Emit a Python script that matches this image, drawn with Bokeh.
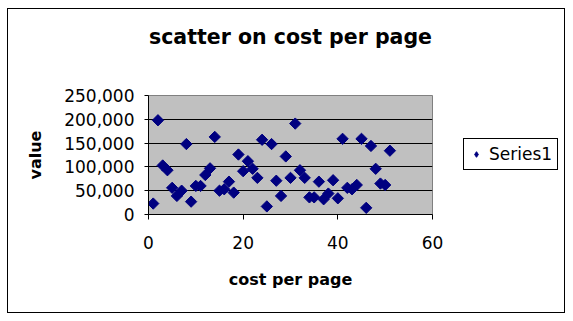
from bokeh.plotting import figure
from bokeh.models import (ColumnDataSource, Range1d, FixedTicker, NumeralTickFormatter,
                          Legend, LegendItem, Title, InlineStyleSheet)
from bokeh.embed import file_html
from bokeh.resources import INLINE
import math

cost_per_page = [1, 2, 3, 4, 5, 6, 7, 8, 9, 10, 11, 12, 13, 14, 15, 16, 17, 18, 19, 20,
                 21, 22, 23, 24, 25, 26, 27, 28, 29, 30, 31, 32, 33, 34, 35, 36, 37, 38, 39, 40,
                 41, 42, 43, 44, 45, 46, 47, 48, 49, 50, 51]
value = [23000, 198000, 103000, 93000, 56000, 39000, 50000, 148000, 27000, 60000,
         60000, 83000, 97000, 163000, 50000, 53000, 69000, 46000, 126000, 91000,
         112000, 96000, 77000, 157000, 17000, 148000, 71000, 39000, 122000, 77000,
         191000, 93000, 77000, 36000, 36000, 69000, 32000, 44000, 72000, 34000,
         159000, 56000, 53000, 62000, 159000, 14000, 144000, 96000, 65000, 62000,
         134000]
x_ticks = [0, 20, 40, 60]
y_ticks = [0, 50000, 100000, 150000, 200000, 250000]
series_name = "Series1"
chart_title = "scatter on cost per page"

FONT = "DejaVu Sans"

src = ColumnDataSource(dict(x=cost_per_page, y=value))

p = figure(frame_width=284, frame_height=119, output_backend="svg", toolbar_location=None,
           x_range=Range1d(0, 60), y_range=Range1d(0, 250000),
           min_border_left=148, min_border_right=141, min_border_top=95, min_border_bottom=107)

p.stylesheets = [InlineStyleSheet(css="""
:host { position: relative; }
:host::after {
  content: ""; position: absolute; left: 7px; top: 8px; width: 558px; height: 305px;
  border: 1px solid black; pointer-events: none; z-index: 100; box-sizing: border-box;
}
""")]

p.background_fill_color = "#C0C0C0"
p.border_fill_color = "white"
p.outline_line_color = "#808080"
p.outline_line_width = 1

p.title.visible = False
p.add_layout(Title(text=" ", text_font_size="26px", text_font=FONT), "above")
p.add_layout(Title(text=chart_title, text_font=FONT, text_font_size="20.5px",
                   text_font_style="bold", align="center", text_color="black"), "above")

# legend swatch renderer: small diamonds under the main markers (hidden by them)
r_leg = p.scatter("x", "y", source=src, marker="diamond", size=9,
                  fill_color="#000080", line_color="#000080")

r = p.scatter("x", "y", source=src, marker="square", size=8, angle=math.pi / 4,
              fill_color="#000080", line_color="#000080")

p.xgrid.visible = False
p.ygrid.ticker = FixedTicker(ticks=y_ticks)
p.ygrid.grid_line_color = "black"
p.ygrid.grid_line_width = 1

for ax in (p.xaxis[0], p.yaxis[0]):
    ax.axis_line_color = "black"
    ax.major_tick_line_color = "black"
    ax.minor_tick_line_color = None
    ax.major_tick_out = 5
    ax.major_tick_in = 0
    ax.major_label_text_font = FONT
    ax.major_label_text_font_size = "17px"
    ax.major_label_text_color = "black"
    ax.axis_label_text_font = FONT
    ax.axis_label_text_font_size = "16px"
    ax.axis_label_text_font_style = "bold"
    ax.axis_label_text_color = "black"

p.xaxis.ticker = FixedTicker(ticks=x_ticks)
p.xaxis.axis_label = "cost per page"
p.xaxis.major_label_standoff = 16
p.xaxis.axis_label_standoff = 18

p.yaxis.ticker = FixedTicker(ticks=y_ticks)
p.yaxis.formatter = NumeralTickFormatter(format="0,0")
p.yaxis.axis_label = "value"
p.yaxis.major_tick_out = 4
p.yaxis.major_label_standoff = 10
p.yaxis.axis_label_standoff = 16

legend = Legend(items=[LegendItem(label=series_name, renderers=[r_leg])], location=(31, 44),
                margin=0, padding=5, border_line_color="black", border_line_width=1,
                border_line_alpha=1.0,
                label_text_font=FONT, label_text_font_size="17px", label_standoff=6,
                label_text_color="black",
                glyph_width=14, glyph_height=14, background_fill_color="white")
p.add_layout(legend, "right")

open("out.html", "w").write(file_html(p, INLINE))
